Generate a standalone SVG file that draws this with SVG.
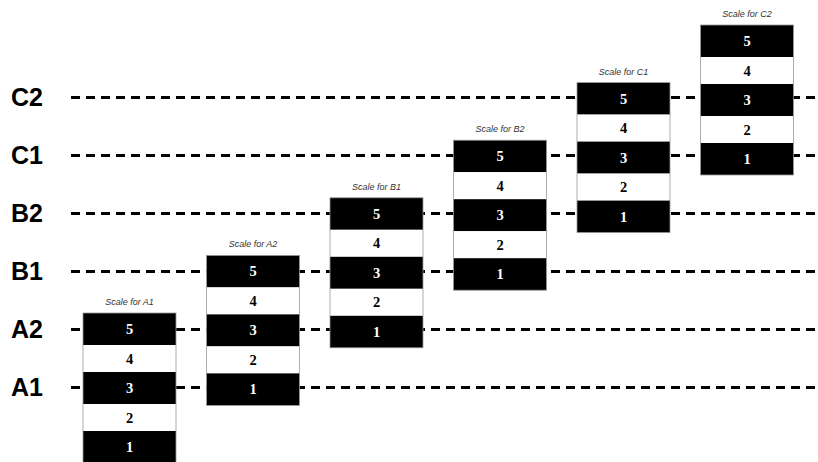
<svg xmlns="http://www.w3.org/2000/svg" width="818" height="462" viewBox="0 0 818 462">
<style>
.lvl{font-family:"Liberation Sans",Arial,sans-serif;font-weight:bold;font-size:25px;fill:#000}
.dash{stroke:#000;stroke-width:3;stroke-dasharray:9 6;fill:none}
.blk{fill:#000}
.wht{fill:#fff}
.outline{fill:none;stroke:#999;stroke-width:0.8}
.numw{font-family:"Liberation Serif","Times New Roman",serif;font-weight:bold;font-size:14.5px;fill:#fff;text-anchor:middle}
.numb{font-family:"Liberation Serif","Times New Roman",serif;font-weight:bold;font-size:14.5px;fill:#000;text-anchor:middle}
.cap{font-family:"Liberation Sans",Arial,sans-serif;font-style:italic;font-size:9px;fill:#333;text-anchor:middle}
</style>
<defs>
<g id="scale">
<rect class="blk" x="0" y="0" width="93" height="32"/>
<rect class="wht" x="0" y="32" width="93" height="27"/>
<rect class="blk" x="0" y="59" width="93" height="32"/>
<rect class="wht" x="0" y="91" width="93" height="27"/>
<rect class="blk" x="0" y="118" width="93" height="32"/>
<rect class="outline" x="0" y="0" width="93" height="150"/>
<text class="numw" x="46.5" y="21">5</text>
<text class="numb" x="46.5" y="50.5">4</text>
<text class="numw" x="46.5" y="80">3</text>
<text class="numb" x="46.5" y="109.5">2</text>
<text class="numw" x="46.5" y="139">1</text>
</g>
</defs>
<g id="labels">
<text class="lvl" x="11" y="106">C2</text>
<text class="lvl" x="11" y="164">C1</text>
<text class="lvl" x="11" y="222">B2</text>
<text class="lvl" x="11" y="280">B1</text>
<text class="lvl" x="11" y="338">A2</text>
<text class="lvl" x="11" y="396">A1</text>
</g>
<g id="connectors">
<line class="dash" x1="71" y1="97.5" x2="818" y2="97.5"/>
<line class="dash" x1="71" y1="155.5" x2="818" y2="155.5"/>
<line class="dash" x1="71" y1="213.5" x2="818" y2="213.5"/>
<line class="dash" x1="71" y1="271.5" x2="818" y2="271.5"/>
<line class="dash" x1="71" y1="329.5" x2="818" y2="329.5"/>
<line class="dash" x1="71" y1="387.5" x2="818" y2="387.5"/>
</g>
<g id="scaleA1" transform="translate(83,313)">
<text class="cap" x="46.5" y="-8">Scale for A1</text>
<use href="#scale"/>
</g>
<g id="scaleA2" transform="translate(206.5,255.4)">
<text class="cap" x="46.5" y="-8">Scale for A2</text>
<use href="#scale"/>
</g>
<g id="scaleB1" transform="translate(330,197.8)">
<text class="cap" x="46.5" y="-8">Scale for B1</text>
<use href="#scale"/>
</g>
<g id="scaleB2" transform="translate(453.5,140.2)">
<text class="cap" x="46.5" y="-8">Scale for B2</text>
<use href="#scale"/>
</g>
<g id="scaleC1" transform="translate(577,82.6)">
<text class="cap" x="46.5" y="-8">Scale for C1</text>
<use href="#scale"/>
</g>
<g id="scaleC2" transform="translate(700.5,25)">
<text class="cap" x="46.5" y="-8">Scale for C2</text>
<use href="#scale"/>
</g>
</svg>
